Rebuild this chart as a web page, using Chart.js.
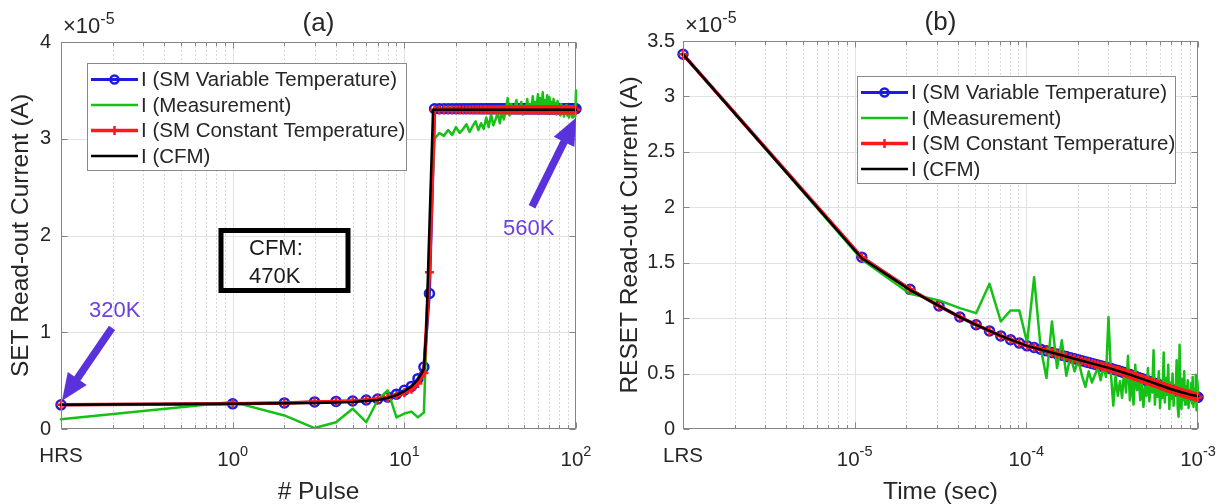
<!DOCTYPE html>
<html>
<head>
<meta charset="utf-8">
<script src="https://cdn.jsdelivr.net/npm/chart.js@4.4.1/dist/chart.umd.min.js"></script>
<style>
  html, body { margin: 0; padding: 0; background: #fff; }
  #wrap { position: relative; width: 1228px; height: 504px; overflow: hidden; }
  canvas { position: absolute; top: 0; }
</style>
</head>
<body>
<div id="wrap">
  <canvas id="setChart" width="614" height="504" style="left:0"></canvas>
  <canvas id="resetChart" width="614" height="504" style="left:614px"></canvas>
</div>
<script>
// ---------- panel (a): SET, currents in units of 1e-5 A ----------
const setPulses = [
  0.1, 1, 2, 3, 4, 5, 6, 7, 8, 9, 10,
  11, 12, 13, 14, 15, 16, 17, 18, 19, 20,
  21, 22, 23, 24, 25, 26, 27, 28, 29, 30,
  31, 32, 33, 34, 35, 36, 37, 38, 39, 40,
  41, 42, 43, 44, 45, 46, 47, 48, 49, 50,
  51, 52, 53, 54, 55, 56, 57, 58, 59, 60,
  61, 62, 63, 64, 65, 66, 67, 68, 69, 70,
  71, 72, 73, 74, 75, 76, 77, 78, 79, 80,
  81, 82, 83, 84, 85, 86, 87, 88, 89, 90,
  91, 92, 93, 94, 95, 96, 97, 98, 99, 100
];
const setVarTemp = [
  0.25, 0.26, 0.27, 0.28, 0.285, 0.29, 0.30, 0.31, 0.33, 0.36, 0.40,
  0.44, 0.52, 0.64, 1.40, 3.31, 3.31, 3.31, 3.31, 3.31, 3.31,
  3.31, 3.31, 3.31, 3.31, 3.31, 3.31, 3.31, 3.31, 3.31, 3.31,
  3.31, 3.31, 3.31, 3.31, 3.31, 3.31, 3.31, 3.31, 3.31, 3.31,
  3.31, 3.31, 3.31, 3.31, 3.31, 3.31, 3.31, 3.31, 3.31, 3.31,
  3.31, 3.31, 3.31, 3.31, 3.31, 3.31, 3.31, 3.31, 3.31, 3.31,
  3.31, 3.31, 3.31, 3.31, 3.31, 3.31, 3.31, 3.31, 3.31, 3.31,
  3.31, 3.31, 3.31, 3.31, 3.31, 3.31, 3.31, 3.31, 3.31, 3.31,
  3.31, 3.31, 3.31, 3.31, 3.31, 3.31, 3.31, 3.31, 3.31, 3.31,
  3.31, 3.31, 3.31, 3.31, 3.31, 3.31, 3.31, 3.31, 3.31, 3.31
];
const setConstTemp = [
  0.25, 0.26, 0.27, 0.28, 0.285, 0.29, 0.30, 0.31, 0.325, 0.345, 0.375,
  0.41, 0.47, 0.58, 1.62, 3.30, 3.30, 3.30, 3.30, 3.30, 3.30,
  3.30, 3.30, 3.30, 3.30, 3.30, 3.30, 3.30, 3.30, 3.30, 3.30,
  3.30, 3.30, 3.30, 3.30, 3.30, 3.30, 3.30, 3.30, 3.30, 3.30,
  3.30, 3.30, 3.30, 3.30, 3.30, 3.30, 3.30, 3.30, 3.30, 3.30,
  3.30, 3.30, 3.30, 3.30, 3.30, 3.30, 3.30, 3.30, 3.30, 3.30,
  3.30, 3.30, 3.30, 3.30, 3.30, 3.30, 3.30, 3.30, 3.30, 3.30,
  3.30, 3.30, 3.30, 3.30, 3.30, 3.30, 3.30, 3.30, 3.30, 3.30,
  3.30, 3.30, 3.30, 3.30, 3.30, 3.30, 3.30, 3.30, 3.30, 3.30,
  3.30, 3.30, 3.30, 3.30, 3.30, 3.30, 3.30, 3.30, 3.30, 3.30
];
const setMeasured = [
  0.10, 0.28, 0.14, 0.01, 0.07, 0.21, 0.07, 0.30, 0.40, 0.12, 0.16,
  0.18, 0.12, 0.17, 1.90, 3.00, 3.06, 3.03, 3.09, 3.04, 3.12,
  3.06, 3.10, 3.15, 3.07, 3.13, 3.18, 3.09, 3.16, 3.10, 3.22,
  3.12, 3.25, 3.14, 3.20, 3.27, 3.16, 3.28, 3.20, 3.30, 3.42,
  3.24, 3.36, 3.27, 3.33, 3.40, 3.26, 3.31, 3.38, 3.25, 3.34,
  3.29, 3.41, 3.28, 3.36, 3.30, 3.44, 3.27, 3.38, 3.33, 3.46,
  3.29, 3.42, 3.31, 3.48, 3.26, 3.40, 3.35, 3.45, 3.28, 3.43,
  3.32, 3.38, 3.26, 3.41, 3.30, 3.37, 3.25, 3.39, 3.31, 3.34,
  3.24, 3.36, 3.28, 3.33, 3.23, 3.31, 3.26, 3.35, 3.24, 3.30,
  3.22, 3.33, 3.25, 3.29, 3.22, 3.31, 3.24, 3.27, 3.23, 3.50
];
const cfmSetPulses = [0.1, 1, 2, 3, 4, 5, 6, 7, 8, 9, 10, 11, 12, 13, 13.4, 13.7, 14.2, 14.7, 20, 50, 100];
const cfmSet = [0.25, 0.26, 0.265, 0.27, 0.275, 0.28, 0.29, 0.30, 0.32, 0.35, 0.39, 0.44, 0.51, 0.62, 1.0, 1.55, 2.45, 3.30, 3.30, 3.30, 3.30];

const setTickValues = [0.1, 1, 10, 100];
const setTickLabels = ['HRS', '10^0', '10^1', '10^2'];
const setMinorTicks = [0.2, 0.3, 0.4, 0.5, 0.6, 0.7, 0.8, 0.9, 2, 3, 4, 5, 6, 7, 8, 9, 20, 30, 40, 50, 60, 70, 80, 90];

// ---------- panel (b): RESET, time in microseconds, currents in 1e-5 A ----------
const resetTimesUs = [
  1, 11, 21, 31, 41, 51, 61, 71, 81, 91, 101,
  111, 121, 131, 141, 151, 161, 171, 181, 191, 201,
  211, 221, 231, 241, 251, 261, 271, 281, 291, 301,
  311, 321, 331, 341, 351, 361, 371, 381, 391, 401,
  411, 421, 431, 441, 451, 461, 471, 481, 491, 501,
  511, 521, 531, 541, 551, 561, 571, 581, 591, 601,
  611, 621, 631, 641, 651, 661, 671, 681, 691, 701,
  711, 721, 731, 741, 751, 761, 771, 781, 791, 801,
  811, 821, 831, 841, 851, 861, 871, 881, 891, 901,
  911, 921, 931, 941, 951, 961, 971, 981, 991, 1001
];
const resetVarTemp = [
  3.38, 1.55, 1.26, 1.11, 1.01, 0.94, 0.885, 0.84, 0.805, 0.775, 0.75,
  0.735, 0.72, 0.705, 0.69, 0.677, 0.665, 0.654, 0.643, 0.633, 0.624,
  0.615, 0.607, 0.599, 0.591, 0.584, 0.577, 0.570, 0.563, 0.557, 0.551,
  0.545, 0.539, 0.533, 0.527, 0.521, 0.515, 0.509, 0.503, 0.497, 0.491,
  0.485, 0.479, 0.473, 0.468, 0.463, 0.458, 0.453, 0.448, 0.443, 0.438,
  0.433, 0.428, 0.423, 0.419, 0.415, 0.411, 0.407, 0.403, 0.399, 0.395,
  0.391, 0.387, 0.383, 0.379, 0.375, 0.371, 0.368, 0.365, 0.362, 0.359,
  0.356, 0.353, 0.350, 0.347, 0.344, 0.341, 0.338, 0.335, 0.332, 0.329,
  0.326, 0.323, 0.320, 0.318, 0.316, 0.314, 0.312, 0.310, 0.308, 0.306,
  0.304, 0.302, 0.300, 0.298, 0.296, 0.294, 0.292, 0.290, 0.288, 0.286
];
const resetConstTemp = resetVarTemp;
const resetMeasured = [
  3.38, 1.53, 1.22, 1.16, 1.09, 1.045, 1.31, 0.97, 1.07, 1.07, 0.78,
  1.37, 0.74, 0.46, 0.97, 0.55, 0.80, 0.48, 0.66, 0.52, 0.62,
  0.48, 0.38, 0.52, 0.42, 0.49, 0.55, 0.44, 0.57, 0.47, 1.01,
  0.50, 0.21, 0.48, 0.30, 0.43, 0.28, 0.52, 0.33, 0.66, 0.26,
  0.45, 0.22, 0.58, 0.35, 0.47, 0.26, 0.41, 0.20, 0.38, 0.30,
  0.55, 0.25, 0.43, 0.33, 0.71, 0.22, 0.44, 0.29, 0.52, 0.19,
  0.40, 0.28, 0.69, 0.24, 0.46, 0.31, 0.58, 0.18, 0.42, 0.27,
  0.50, 0.21, 0.39, 0.33, 0.62, 0.20, 0.11, 0.76, 0.30, 0.18,
  0.45, 0.26, 0.52, 0.22, 0.38, 0.29, 0.44, 0.19, 0.35, 0.27,
  0.41, 0.23, 0.47, 0.20, 0.36, 0.25, 0.49, 0.17, 0.44, 0.32
];
const cfmResetUs = [1, 11, 21, 31, 41, 51, 71, 101, 151, 201, 301, 401, 501, 601, 701, 801, 901, 1001];
const cfmReset = [3.38, 1.54, 1.255, 1.11, 1.01, 0.94, 0.84, 0.75, 0.677, 0.624, 0.551, 0.491, 0.438, 0.395, 0.359, 0.331, 0.31, 0.295];

const resetTickValues = [1e-6, 1e-5, 1e-4, 1e-3];
const resetTickLabels = ['LRS', '10^-5', '10^-4', '10^-3'];
const resetMinorTicks = [2e-6, 3e-6, 4e-6, 5e-6, 6e-6, 7e-6, 8e-6, 9e-6,
  2e-5, 3e-5, 4e-5, 5e-5, 6e-5, 7e-5, 8e-5, 9e-5,
  2e-4, 3e-4, 4e-4, 5e-4, 6e-4, 7e-4, 8e-4, 9e-4];

// ---------- drawing helpers ----------
const FONT = '"Liberation Sans", Arial, Helvetica, sans-serif';
const TEXT = '#262626';
const BLUE = '#1c1cdc', GREEN = '#16c016', RED = '#ff1a1a', BLACK = '#000000';

function pts(xs, ys, k) {
  return xs.map((x, i) => ({ x: x * (k || 1), y: ys[i] }));
}

function seg(ctx, x1, y1, x2, y2) {
  ctx.beginPath(); ctx.moveTo(x1, y1); ctx.lineTo(x2, y2); ctx.stroke();
}

function powWidth(ctx, label, size, supSize) {
  const parts = label.split('^');
  ctx.font = size + 'px ' + FONT;
  let w = ctx.measureText(parts[0]).width;
  if (parts[1]) { ctx.font = supSize + 'px ' + FONT; w += ctx.measureText(parts[1]).width; }
  return w;
}

function drawPow(ctx, label, x0, base, size, supSize, raise) {
  const parts = label.split('^');
  ctx.textAlign = 'left';
  ctx.textBaseline = 'alphabetic';
  ctx.font = size + 'px ' + FONT;
  ctx.fillText(parts[0], x0, base);
  const w1 = ctx.measureText(parts[0]).width;
  if (parts[1]) {
    ctx.font = supSize + 'px ' + FONT;
    ctx.fillText(parts[1], x0 + w1, base - raise);
  }
}

function arrow(ctx, x1, y1, x2, y2, color) {
  const dx = x2 - x1, dy = y2 - y1, L = Math.hypot(dx, dy);
  const ux = dx / L, uy = dy / L;
  const headL = 27, headW = 11.5;
  const bx = x2 - ux * headL, by = y2 - uy * headL;
  ctx.strokeStyle = color; ctx.lineWidth = 7.5; ctx.lineCap = 'butt';
  seg(ctx, x1, y1, bx + ux * 3, by + uy * 3);
  ctx.fillStyle = color;
  ctx.beginPath();
  ctx.moveTo(x2, y2);
  ctx.lineTo(bx - uy * headW, by + ux * headW);
  ctx.lineTo(bx + uy * headW, by - ux * headW);
  ctx.closePath();
  ctx.fill();
}

function drawLegend(chart, box) {
  const ctx = chart.ctx;
  ctx.save();
  ctx.fillStyle = '#fff';
  ctx.fillRect(box.x, box.y, box.w, box.h);
  ctx.strokeStyle = '#8a8a8a'; ctx.lineWidth = 1;
  ctx.strokeRect(box.x + 0.5, box.y + 0.5, box.w, box.h);
  chart.data.datasets.forEach((ds, i) => {
    const cy = box.y + 16.5 + i * 25.5;
    const x1 = box.x + 4, x2 = box.x + 51, xm = (x1 + x2) / 2;
    ctx.strokeStyle = ds.borderColor; ctx.lineWidth = ds.borderWidth; ctx.lineCap = 'butt';
    seg(ctx, x1, cy, x2, cy);
    if (ds.pointRadius && ds.pointStyle === 'circle') {
      ctx.lineWidth = ds.pointBorderWidth;
      ctx.beginPath(); ctx.arc(xm, cy, ds.pointRadius - 0.5, 0, Math.PI * 2); ctx.stroke();
    } else if (ds.pointRadius && ds.pointStyle === 'cross') {
      ctx.lineWidth = ds.pointBorderWidth;
      seg(ctx, xm, cy - ds.pointRadius, xm, cy + ds.pointRadius);
    }
    ctx.fillStyle = TEXT;
    ctx.font = '20.5px ' + FONT;
    ctx.textAlign = 'left'; ctx.textBaseline = 'middle';
    ctx.fillText(ds.label, box.x + 54, cy + 1);
  });
  ctx.restore();
}

function decor(opts) {
  return {
    id: 'decor',
    beforeDatasetsDraw(chart) {
      const { ctx, chartArea: a, scales: { x, y } } = chart;
      ctx.save();
      ctx.lineWidth = 1;
      ctx.strokeStyle = '#d9d9d9';
      ctx.setLineDash([2, 2]);
      opts.minorTicks.forEach(v => {
        const px = Math.round(x.getPixelForValue(v)) + 0.5;
        seg(ctx, px, a.top, px, a.bottom);
      });
      ctx.setLineDash([]);
      ctx.strokeStyle = '#e2e2e2';
      opts.tickValues.forEach(v => {
        if (v <= x.min || v >= x.max) return;
        const px = Math.round(x.getPixelForValue(v)) + 0.5;
        seg(ctx, px, a.top, px, a.bottom);
      });
      y.ticks.forEach(t => {
        if (t.value <= y.min || t.value >= y.max) return;
        const py = Math.round(y.getPixelForValue(t.value)) + 0.5;
        seg(ctx, a.left, py, a.right, py);
      });
      ctx.restore();
    },
    afterDatasetsDraw(chart) {
      const { ctx, chartArea: a, scales: { x, y } } = chart;
      ctx.save();
      ctx.strokeStyle = '#858585';
      ctx.lineWidth = 1;
      const L = Math.round(a.left) + 0.5, R = Math.round(a.right) - 0.5;
      const T = Math.round(a.top) + 0.5, B = Math.round(a.bottom) - 0.5;
      opts.tickValues.forEach(v => {
        const px = Math.round(x.getPixelForValue(v)) + 0.5;
        seg(ctx, px, B, px, B - 6); seg(ctx, px, T, px, T + 6);
      });
      opts.minorTicks.forEach(v => {
        const px = Math.round(x.getPixelForValue(v)) + 0.5;
        seg(ctx, px, B, px, B - 3.5); seg(ctx, px, T, px, T + 3.5);
      });
      y.ticks.forEach(t => {
        const py = Math.round(y.getPixelForValue(t.value)) + 0.5;
        seg(ctx, L, py, L + 6, py); seg(ctx, R, py, R - 6, py);
      });
      ctx.strokeRect(L, T, R - L, B - T);
      ctx.restore();
    },
    afterDraw(chart) {
      const { ctx, chartArea: a, scales: { x } } = chart;
      const cx = (a.left + a.right) / 2, cy = (a.top + a.bottom) / 2;
      ctx.save();
      ctx.fillStyle = TEXT;
      // x tick labels
      opts.tickValues.forEach((v, i) => {
        const lab = opts.tickLabels[i];
        const px = x.getPixelForValue(v);
        if (lab.indexOf('^') < 0) {
          ctx.font = '20.5px ' + FONT; ctx.textAlign = 'center'; ctx.textBaseline = 'alphabetic';
          ctx.fillText(lab, px, 462);
        } else {
          const w = powWidth(ctx, lab, 20.5, 14.5);
          drawPow(ctx, lab, px - w / 2, 466, 20.5, 14.5, 10);
        }
      });
      // title
      ctx.font = '26px ' + FONT; ctx.textAlign = 'center'; ctx.textBaseline = 'alphabetic';
      ctx.fillText(opts.title, cx, opts.titleBase);
      // exponent
      drawPow(ctx, '\u00d710^-5', a.left + 2, opts.expBase, 22, 16, 9);
      // axis titles
      ctx.font = '24.5px ' + FONT; ctx.textAlign = 'center'; ctx.textBaseline = 'alphabetic';
      ctx.fillText(opts.xTitle, cx, 499);
      ctx.save();
      ctx.translate(opts.yTitleX, cy);
      ctx.rotate(-Math.PI / 2);
      ctx.fillText(opts.yTitle, 0, 0);
      ctx.restore();
      ctx.restore();
      drawLegend(chart, opts.legend);
      if (opts.notes) opts.notes(chart);
    }
  };
}

function setNotes(chart) {
  const { ctx, scales: { x, y } } = chart;
  ctx.save();
  const violet = '#5a32dc';
  // arrow to the HRS point (320K) and to the last pulse (560K)
  const p0x = x.getPixelForValue(setPulses[0]), p0y = y.getPixelForValue(setVarTemp[0]);
  arrow(ctx, p0x + 51, p0y - 77, p0x + 1, p0y - 4, violet);
  const n = setPulses.length - 1;
  const p1x = x.getPixelForValue(setPulses[n]), p1y = y.getPixelForValue(setVarTemp[n]);
  arrow(ctx, p1x - 44, p1y + 98, p1x, p1y + 9, violet);
  ctx.fillStyle = '#6b3fe0';
  ctx.font = '22px ' + FONT; ctx.textAlign = 'left'; ctx.textBaseline = 'alphabetic';
  ctx.fillText('320K', 89, 317);
  ctx.fillText('560K', 503, 235);
  // CFM box
  ctx.strokeStyle = '#000'; ctx.lineWidth = 5;
  ctx.strokeRect(221, 230.5, 127, 60);
  ctx.fillStyle = '#1a1a1a';
  ctx.fillText('CFM:', 249, 255);
  ctx.fillText('470K', 249, 283);
  ctx.restore();
}

function makeChart(id, cfg) {
  return new Chart(document.getElementById(id), {
    type: 'line',
    data: { datasets: cfg.datasets },
    options: {
      responsive: false,
      animation: false,
      layout: { padding: cfg.padding },
      plugins: { legend: { display: false }, tooltip: { enabled: false }, title: { display: false } },
      elements: { line: { tension: 0, borderJoinStyle: 'round', borderCapStyle: 'round' } },
      scales: {
        x: {
          type: 'logarithmic', min: cfg.xMin, max: cfg.xMax,
          grid: { display: false, drawTicks: false }, border: { display: false },
          ticks: { display: false },
          afterFit(s) { s.height = 75; }
        },
        y: {
          type: 'linear', min: 0, max: cfg.yMax,
          grid: { display: false, drawTicks: false }, border: { display: false },
          ticks: {
            stepSize: cfg.yStep, padding: cfg.tickPad, color: TEXT,
            font: { family: FONT, size: 20 },
            callback: v => String(v)
          },
          afterFit(s) { s.width = cfg.yWidth; }
        }
      }
    },
    plugins: [decor(cfg.decor)]
  });
}

function seriesSet(blue, green, red, black) {
  return [
    { label: 'I (SM Variable Temperature)', data: blue, borderColor: BLUE, borderWidth: 3,
      pointStyle: 'circle', pointRadius: 4.5, pointBorderWidth: 2.5, pointBorderColor: BLUE,
      pointBackgroundColor: 'rgba(0,0,0,0)', order: 4, clip: false },
    { label: 'I (Measurement)', data: green, borderColor: GREEN, borderWidth: 2.5,
      pointRadius: 0, order: 3, clip: false },
    { label: 'I (SM Constant Temperature)', data: red, borderColor: RED, borderWidth: 3.5,
      pointStyle: 'cross', pointRadius: 4.5, pointBorderWidth: 2.5, pointBorderColor: RED,
      order: 2, clip: false },
    { label: 'I (CFM)', data: black, borderColor: BLACK, borderWidth: 2.5,
      pointRadius: 0, order: 1, clip: false }
  ];
}

makeChart('setChart', {
  datasets: seriesSet(pts(setPulses, setVarTemp), pts(setPulses, setMeasured),
                      pts(setPulses, setConstTemp), pts(cfmSetPulses, cfmSet)),
  padding: { left: 0, right: 38, top: 42, bottom: 0 },
  xMin: 0.1, xMax: 100, yMax: 4, yStep: 1, tickPad: 10, yWidth: 61,
  decor: {
    title: '(a)', titleBase: 31, expBase: 33, xTitle: '# Pulse',
    yTitle: 'SET Read-out Current (A)', yTitleX: 28,
    tickValues: setTickValues, tickLabels: setTickLabels, minorTicks: setMinorTicks,
    legend: { x: 87, y: 63, w: 319, h: 107 },
    notes: setNotes
  }
});

makeChart('resetChart', {
  datasets: seriesSet(pts(resetTimesUs, resetVarTemp, 1e-6), pts(resetTimesUs, resetMeasured, 1e-6),
                      pts(resetTimesUs, resetConstTemp, 1e-6), pts(cfmResetUs, cfmReset, 1e-6)),
  padding: { left: 0, right: 30, top: 41, bottom: 0 },
  xMin: 1e-6, xMax: 1e-3, yMax: 3.5, yStep: 0.5, tickPad: 8, yWidth: 69,
  decor: {
    title: '(b)', titleBase: 30, expBase: 32, xTitle: 'Time (sec)',
    yTitle: 'RESET Read-out Current (A)', yTitleX: 23,
    tickValues: resetTickValues, tickLabels: resetTickLabels, minorTicks: resetMinorTicks,
    legend: { x: 243, y: 76, w: 318, h: 107 }
  }
});
</script>
</body>
</html>
